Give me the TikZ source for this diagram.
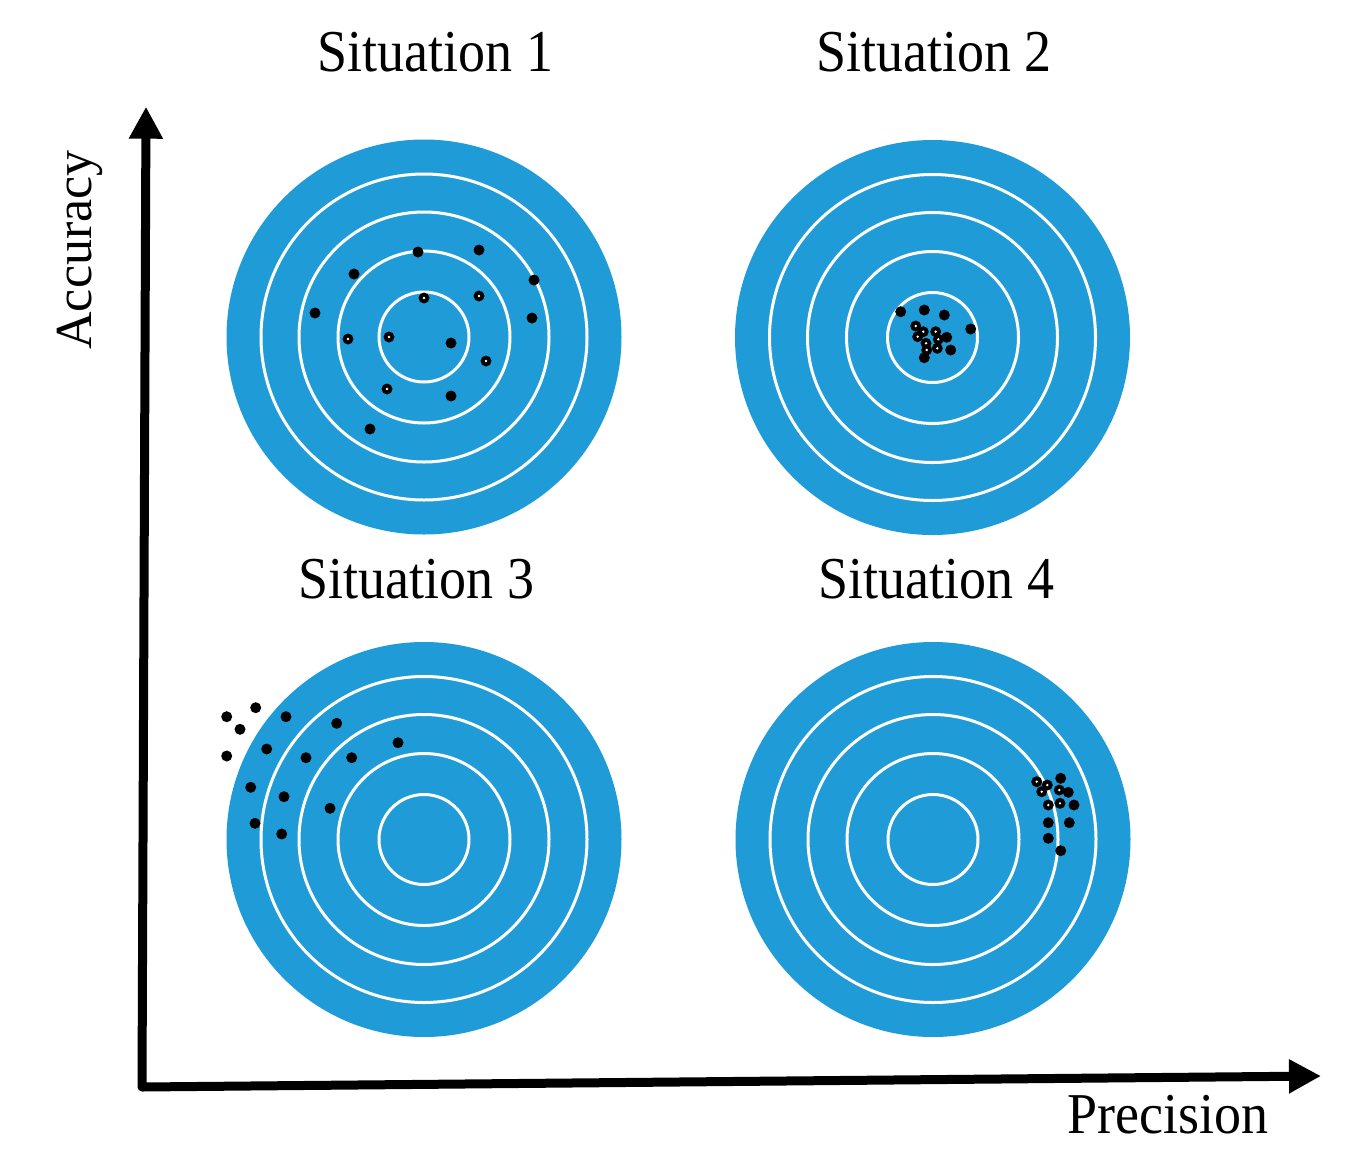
\documentclass[tikz,border=0pt]{standalone}
\usepackage{fontspec}
\setmainfont{Liberation Serif}
\usetikzlibrary{arrows.meta}
\definecolor{tblue}{RGB}{31,156,216}
\tikzset{
  target/.pic={
    \fill[tblue] (0,0) circle[radius=197.5pt];
    \foreach \r in {45,86,125,163} \draw[white, line width=3pt] (0,0) circle[radius=\r pt];
  },
  lbl/.style={anchor=base, inner sep=0pt, font=\fontsize{54}{60}\selectfont},
  axis/.style={line width=9pt, line join=round, {Triangle[length=32pt,width=32pt]}-{Triangle[length=32pt,width=32pt]}}
}
\newcommand{\fdots}[1]{\foreach \p in {#1} \fill[black] \p circle[radius=5.5pt];}
\newcommand{\odots}[1]{\foreach \p in {#1} {\fill[black] \p circle[radius=5.5pt]; \fill[white] \p circle[radius=1.3pt];}}
\begin{document}
\begin{tikzpicture}[x=1pt,y=-1pt]
\useasboundingbox[fill=white] (0,0) rectangle (1361,1163);
% targets
\pic at (424,337) {target};
\pic at (932.5,337.5) {target};
\pic at (424,839.5) {target};
\pic at (933,839.5) {target};
% situation 1
\fdots{(418,252),(479,250),(354,274),(534,280),(315,313),(532,318),(451,343),(451,396),(370,429)}
\odots{(424,298),(479,296),(348,339),(389,337),(486,361),(387,389)}
% situation 2
\odots{(915.7,326),(923.3,331.7),(917.7,336.7),(935.7,331.7),(938.3,339.3),(926,343.3),(937.3,348.3),(926.7,350)}
\fdots{(900.7,311.7),(924.3,310),(944.3,315),(970.7,329),(946.7,337.3),(950.7,350),(924.3,357.7)}
% situation 3
\fdots{(226.7,716.7),(255.7,707.7),(240,729.3),(226.7,756),(286,716.7),(336.7,723.3),(398,742.7),(266.7,749),(306,757.7),(351.7,757.7),(250.7,787.3),(284,796.7),(330,808.3),(255,823.3),(281.7,834)}
% situation 4
\odots{(1036.7,781.7),(1047.3,785),(1041.7,791.7),(1059.3,790),(1048.3,805),(1060,803.3)}
\fdots{(1060.7,778.3),(1068.3,792.3),(1074,805),(1048.3,822.7),(1069.3,822.7),(1048.3,838.3),(1060.7,850.7)}
% labels
\node[lbl] (s1) at (435.7,71.7) {\scalebox{1}[1.1]{Situation 1}};
\node[lbl] (s2) at (933.8,71.7) {\scalebox{1}[1.1]{Situation 2}};
\node[lbl] (s3) at (416.7,598.3) {\scalebox{1}[1.1]{Situation 3}};
\node[lbl] (s4) at (936.7,598.3) {\scalebox{1}[1.1]{Situation 4}};
\node[lbl, font=\fontsize{52}{60}\selectfont, rotate=90] (acc) at (91.7,250) {Accuracy};
\node[lbl] (prec) at (1168.3,1133.3) {\scalebox{1}[1.07]{Precision}};
% axes
\coordinate (ytip) at (146,106.7);
\coordinate (origin) at (142,1087);
\coordinate (xtip) at (1321,1076);
\draw[axis] (ytip) -- (origin) -- (xtip);
\end{tikzpicture}
\end{document}
